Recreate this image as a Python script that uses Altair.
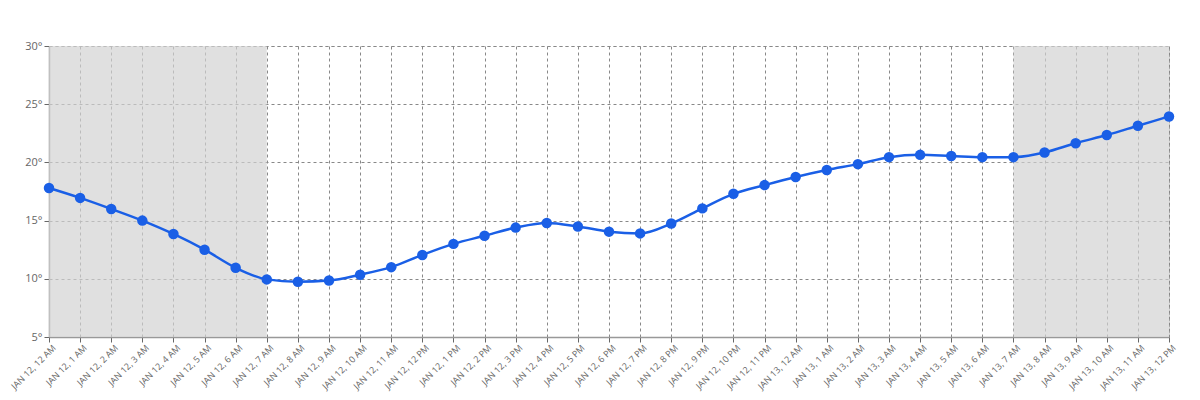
import altair as alt
import pandas as pd

hours = list(range(37))
labels = [f"JAN 12, {h} {'AM' if i < 12 else 'PM'}" for i, h in enumerate([12,1,2,3,4,5,6,7,8,9,10,11,12,1,2,3,4,5,6,7,8,9,10,11])] + \
         [f"JAN 13, {h} {'AM' if i < 12 else 'PM'}" for i, h in enumerate([12,1,2,3,4,5,6,7,8,9,10,11,12])]
temps = [17.8, 16.95, 16.0, 15.0, 13.85, 12.5, 10.95, 9.95, 9.75, 9.85, 10.35, 11.0,
         12.05, 13.0, 13.7, 14.4, 14.8, 14.5, 14.05, 13.9, 14.75, 16.05, 17.3, 18.05,
         18.75, 19.35, 19.85, 20.45, 20.65, 20.55, 20.45, 20.45, 20.85, 21.65, 22.35, 23.15, 23.95]
night_start = [0, 31]
night_end = [7, 36]

df = pd.DataFrame({"hour": hours, "temp": temps})
night = pd.DataFrame({"start": night_start, "end": night_end, "lo": [5, 5], "hi": [30, 30]})

label_expr = "[" + ",".join(f"'{l}'" for l in labels) + "][datum.value]"

x_scale = alt.Scale(domain=[0, 36], nice=False, zero=False)
y_scale = alt.Scale(domain=[5, 30], nice=False, zero=False)

x_axis = alt.Axis(values=hours, tickCount=37, labelExpr=label_expr, labelAngle=-45, labelAlign="right",
                  labelBaseline="top", title=None, grid=True, gridDash=[3, 3], gridColor="#888",
                  gridWidth=1, domainColor="#999", domainWidth=1.5, tickColor="#666", tickSize=5,
                  labelColor="#666", labelFontSize=9, labelFont="Open Sans", labelPadding=1,
                  labelOffset=2, labelOverlap=False, labelBound=False)
y_axis = alt.Axis(values=[5, 10, 15, 20, 25, 30], labelExpr="datum.value + '°'", title=None,
                  grid=True, gridDash=[3, 3], gridColor="#888", gridWidth=1, domainColor="#999",
                  domainWidth=1.5, tickColor="#666", tickSize=5, labelColor="#666",
                  labelFontSize=11, labelFont="Open Sans")

shade = alt.Chart(night).mark_rect(color="#d2d2d2", opacity=0.69).encode(
    x=alt.X("start:Q", scale=x_scale, axis=x_axis),
    x2="end:Q",
    y=alt.Y("lo:Q", scale=y_scale, axis=y_axis),
    y2="hi:Q",
)

line = alt.Chart(df).mark_line(color="#1a5fe6", strokeWidth=2.5, interpolate="monotone").encode(
    x=alt.X("hour:Q", scale=x_scale, axis=x_axis),
    y=alt.Y("temp:Q", scale=y_scale, axis=y_axis),
)
pts = alt.Chart(df).mark_circle(color="#1a5fe6", size=110, opacity=1).encode(
    x=alt.X("hour:Q", scale=x_scale, axis=x_axis),
    y=alt.Y("temp:Q", scale=y_scale, axis=y_axis),
)

chart = alt.layer(shade, line, pts).properties(
    width=1120, height=291,
    autosize=alt.AutoSizeParams(type="none"),
    padding={"left": 41, "top": 38, "right": 20, "bottom": 70},
).configure_view(stroke="#aaa", strokeDash=[3, 3], strokeWidth=1)

chart.save("out.html", embed_options={"renderer": "svg", "actions": False})
